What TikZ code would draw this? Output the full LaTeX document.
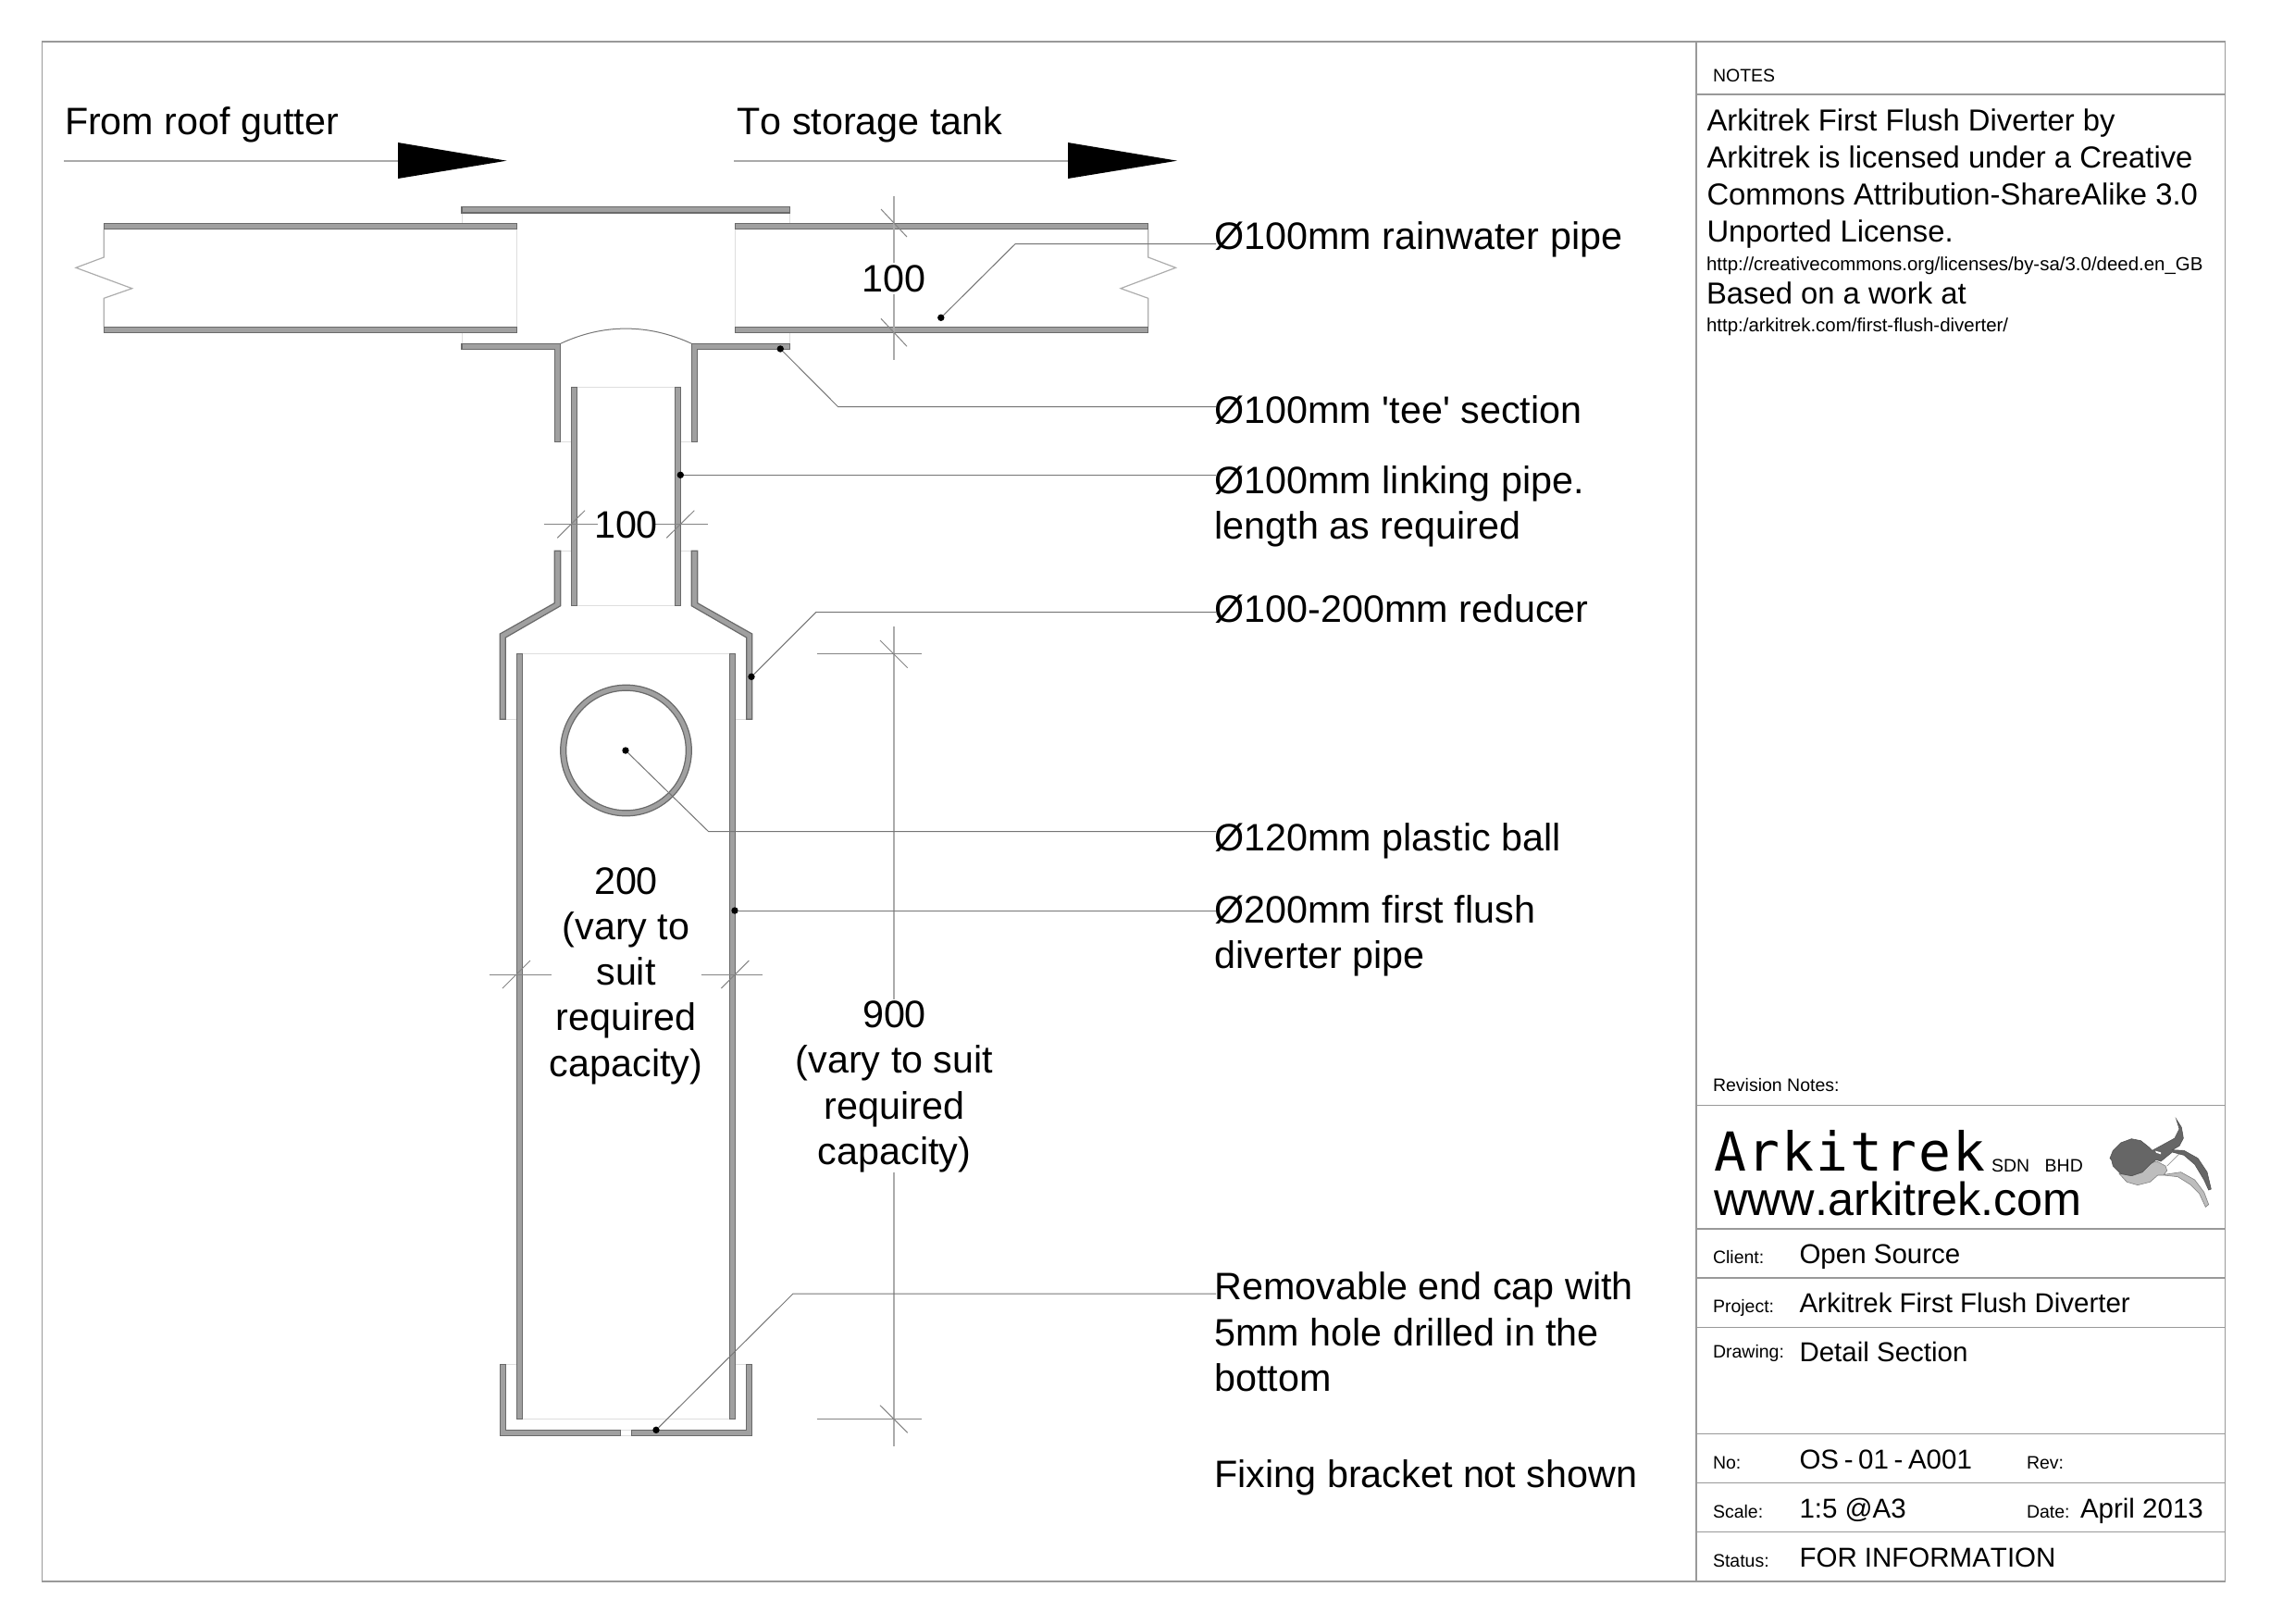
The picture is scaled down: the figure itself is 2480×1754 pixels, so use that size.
\documentclass[tikz,border=0pt]{standalone}
\usepackage{fontspec}
\newfontfamily\arial[Kerning=Off]{Liberation Sans}
\newfontfamily\logofont[LetterSpace=3.4]{DejaVu Sans Mono}
\definecolor{wallgray}{HTML}{A0A0A0}
\definecolor{walledge}{HTML}{6A6A6A}
\definecolor{ghostgray}{HTML}{DEDEDE}
\definecolor{leadgray}{HTML}{757575}
\definecolor{dimgray}{HTML}{858585}
\definecolor{dimvert}{HTML}{ABABAB}
\definecolor{framegray}{HTML}{999999}
\definecolor{logodark}{HTML}{666666}
\definecolor{logolight}{HTML}{BDBDBD}
\tikzset{
  wall/.style={fill=wallgray,draw=walledge,line width=1.2pt,line join=miter},
  ghost/.style={draw=ghostgray,line width=1pt},
  breakline/.style={draw=black!32,line width=1.2pt},
  lead/.style={draw=leadgray,line width=1pt},
  dimline/.style={draw=dimgray,line width=1pt},
  dimv/.style={draw=dimvert,line width=1.4pt},
  tick/.style={draw=dimgray,line width=1pt},
  flow/.style={draw=dimgray!70,line width=1.6pt},
  head/.style={fill=black},
  dot/.style={circle,fill=black,inner sep=0pt,outer sep=0pt,minimum size=7.4pt},
  frameline/.style={draw=framegray,line width=1.6pt},
  txt/.style={inner sep=0pt,outer sep=0pt,anchor=base west,text=black},
  ctr/.style={inner sep=0pt,outer sep=0pt,anchor=base,align=center,text=black},
  big/.style={font=\arial\fontsize{41.3}{49.3}\selectfont},
  bigleft/.style={big,align=left},
  med/.style={font=\arial\fontsize{32.8}{40}\selectfont},
  val/.style={font=\arial\fontsize{29.5}{35}\selectfont},
  urltxt/.style={font=\arial\fontsize{20.45}{24}\selectfont},
  small/.style={font=\arial\fontsize{19.5}{24}\selectfont},
}
\begin{document}
\begin{tikzpicture}[x=1pt,y=-1pt]
\useasboundingbox (0,0) rectangle (2480,1754);
\fill[white] (0,0) rectangle (2480,1754);

% sheet frame and title block rules
\draw[frameline] (45.5,44.7) rectangle (2404.5,1708.7);
\draw[frameline] (1833,44.7) -- (1833,1708.7);
\foreach \yy in {102,1194.4,1327.9,1381,1434.3,1549.6,1602.5,1655.5}
  \draw[frameline] (1833,\yy) -- (2404.5,\yy);

% flow arrows
\coordinate (fa) at (69,173.7);
\coordinate (fb) at (430,173.7);
\coordinate (ta) at (793,173.7);
\coordinate (tb) at (1154,173.7);
\draw[flow] (fa) -- (fb);
\draw[flow] (ta) -- (tb);
\fill[head] (430,154) -- (547.5,173.7) -- (430,193) -- cycle;
\fill[head] (1154,154) -- (1272,173.7) -- (1154,193) -- cycle;

% ghost edges
\draw[ghost] (558.3,247.7) -- (558.3,353.3);
\draw[ghost] (794.3,247.7) -- (794.3,353.3);
\draw[ghost] (499,230) -- (499,241.3);
\draw[ghost] (853.7,230) -- (853.7,241.3);
\draw[ghost] (499,359.7) -- (499,371.3);
\draw[ghost] (853.7,359.7) -- (853.7,371.3);
\draw[ghost] (623.7,418.7) -- (729.3,418.7);
\draw[ghost] (623.7,654.7) -- (729.3,654.7);
\draw[ghost] (605.7,477.7) -- (617.3,477.7);
\draw[ghost] (735.7,477.7) -- (747.3,477.7);
\draw[ghost] (605.7,595.3) -- (617.3,595.3);
\draw[ghost] (735.7,595.3) -- (747.3,595.3);
\draw[ghost] (546.3,777.3) -- (558.3,777.3);
\draw[ghost] (794.7,777.3) -- (806.7,777.3);
\draw[ghost] (564.3,706.7) -- (788.3,706.7);
\draw[ghost] (564.3,1533.7) -- (788.3,1533.7);
\draw[ghost] (546.7,1474.3) -- (558.3,1474.3);
\draw[ghost] (794.7,1474.3) -- (806.3,1474.3);
\draw[ghost] (670.7,1545.3) -- (682.3,1545.3);
\draw[ghost] (670.7,1551.3) -- (682.3,1551.3);

% pipe break lines
\draw[breakline] (112.3,247.7) -- (112.3,278) -- (82,289.3) -- (142.7,311.7) -- (112.3,322.3) -- (112.3,353.3);
\draw[breakline] (1240.7,247.7) -- (1240.7,278) -- (1270.5,289.3) -- (1211,311.7) -- (1240.7,322.3) -- (1240.7,353.3);

% horizontal pipes and tee
\path[wall] (112.3,241.3) rectangle (558.3,247.7);
\path[wall] (112.3,353.3) rectangle (558.3,359.7);
\path[wall] (794.3,241.3) rectangle (1240.7,247.7);
\path[wall] (794.3,353.3) rectangle (1240.7,359.7);
\path[wall] (499,223.3) rectangle (853.7,230);
\path[wall] (499,371.3) -- (605.7,371.3) -- (605.7,477.7) -- (599.3,477.7) -- (599.3,377.7) -- (499,377.7) -- cycle;
\path[wall] (853.7,371.3) -- (747.3,371.3) -- (747.3,477.7) -- (753.7,477.7) -- (753.7,377.7) -- (853.7,377.7) -- cycle;
\draw[draw=leadgray,line width=1pt] (605.7,371.3) .. controls (652,349.7) and (700.5,349.7) .. (747.3,371.3);

% linking pipe
\path[wall] (617.3,418.7) rectangle (623.7,654.7);
\path[wall] (729.3,418.7) rectangle (735.7,654.7);

% reducer
\path[wall] (599.3,595.3) -- (605.7,595.3) -- (605.7,654.7) -- (546.3,689) -- (546.3,777.3) -- (540.3,777.3) -- (540.3,685) -- (599.3,651.7) -- cycle;
\path[wall] (753.7,595.3) -- (747.3,595.3) -- (747.3,654.7) -- (806.7,689) -- (806.7,777.3) -- (812.7,777.3) -- (812.7,685) -- (753.7,651.7) -- cycle;

% diverter pipe
\path[wall] (558.3,706.7) rectangle (564.3,1533.7);
\path[wall] (788.3,706.7) rectangle (794.7,1533.7);

% end cap
\path[wall] (540.3,1474.3) -- (546.7,1474.3) -- (546.7,1545.3) -- (670.7,1545.3) -- (670.7,1551.3) -- (540.3,1551.3) -- cycle;
\path[wall] (812.3,1474.3) -- (806.3,1474.3) -- (806.3,1545.3) -- (682.3,1545.3) -- (682.3,1551.3) -- (812.3,1551.3) -- cycle;

% ball
\path[wall,even odd rule] (676.5,811) circle (70.8) (676.5,811) circle (64.8);

% dimensions
\draw[dimv] (966,211.7) -- (966,284);
\draw[dimv] (966,318) -- (966,389);
\draw[tick] (952,226) -- (980,256);
\draw[tick] (952,344.3) -- (980,374.3);
\draw[dimline] (587.7,566.3) -- (645.7,566.3);
\draw[dimline] (706.7,566.3) -- (765,566.3);
\draw[tick] (602.3,581.3) -- (632,551.7);
\draw[tick] (720.3,581.3) -- (750.3,551.7);
\draw[dimline] (528.6,1053) -- (595.7,1053);
\draw[dimline] (757.5,1053) -- (824,1053);
\draw[tick] (543,1068) -- (573,1038);
\draw[tick] (779.3,1068) -- (809.3,1038);
\draw[dimv] (966,677) -- (966,1080);
\draw[dimv] (966,1266.7) -- (966,1563);
\draw[dimline] (882.7,706.7) -- (995.7,706.7);
\draw[dimline] (882.7,1533.7) -- (995.7,1533.7);
\draw[tick] (951,692) -- (980.7,721.7);
\draw[tick] (951,1518.7) -- (980.7,1548.3);

% dimension text
\node[ctr,big] (dimA) at (966,315.5) {100};
\node[ctr,big] (dimB) at (676.5,581.5) {100};
\node[ctr,big] (dimC) at (676.5,1163.2) {200\\(vary to\\suit\\required\\capacity)};
\node[ctr,big] (dimD) at (966.5,1258.5) {900\\(vary to suit\\required\\capacity)};

% labels
\node[txt,big] (fromroof) at (70,145.5) {From roof gutter};
\node[txt,big] (totank) at (796.5,145.5) {To storage tank};
\node[txt,big] (labA) at (1312.5,269.2) {Ø100mm rainwater pipe};
\node[txt,big] (labB) at (1312.5,457.2) {Ø100mm 'tee' section};
\node[txt,bigleft] (labC) at (1312.5,582.5) {Ø100mm linking pipe.\\length as required};
\node[txt,big] (labD) at (1312.5,672.5) {Ø100-200mm reducer};
\node[txt,big] (labE) at (1312.5,919.8) {Ø120mm plastic ball};
\node[txt,bigleft] (labF) at (1312.5,1046.5) {Ø200mm first flush\\diverter pipe};
\node[txt,bigleft] (labG) at (1312.5,1503.5) {Removable end cap with\\5mm hole drilled in the\\bottom};
\node[txt,big] (labH) at (1312.5,1607) {Fixing bracket not shown};

% leaders
\node[dot] (d1) at (1016.8,343.3) {};
\node[dot] (d2) at (843.3,377) {};
\node[dot] (d3) at (735.3,513.3) {};
\node[dot] (d4) at (812,731.3) {};
\node[dot] (d5) at (676,811) {};
\node[dot] (d6) at (794,984) {};
\node[dot] (d7) at (709,1545.3) {};
\coordinate (e1) at (1314,263.7);
\coordinate (e2) at (1314,439.7);
\coordinate (e3) at (1314,513.3);
\coordinate (e4) at (1314,661.7);
\coordinate (e5) at (1314,898.5);
\coordinate (e6) at (1314,984);
\coordinate (e7) at (1314,1398);
\draw[lead] (d1) -- (1097,263.7) -- (e1);
\draw[lead] (d2) -- (905.7,439.7) -- (e2);
\draw[lead] (d3) -- (e3);
\draw[lead] (d4) -- (881.7,661.7) -- (e4);
\draw[lead] (d5) -- (765.5,898.5) -- (e5);
\draw[lead] (d6) -- (e6);
\draw[lead] (d7) -- (857,1398) -- (e7);

% notes panel
\node[txt,small] (notes) at (1851,88) {NOTES};
\node[txt,med,align=left] (lic) at (1844.5,261.5) {Arkitrek First Flush Diverter by\\Arkitrek is licensed under a Creative\\Commons Attribution-ShareAlike 3.0\\Unported License.};
\node[txt,urltxt] (url1) at (1844,292) {http://creativecommons.org/licenses/by-sa/3.0/deed.en\_GB};
\node[txt,med] (based) at (1844,328) {Based on a work at};
\node[txt,urltxt] (url2) at (1844,358.5) {http:/arkitrek.com/first-flush-diverter/};
\node[txt,small] (rev) at (1851,1179.5) {Revision Notes:};

% logo
\node[txt,font=\logofont\fontsize{58}{60}\selectfont] (logo) at (1852,1265.5) {Arkitrek};
\node[txt,small] (sdn) at (2152,1266) {SDN};
\node[txt,small] (bhd) at (2209.7,1266) {BHD};
\node[txt,font=\arial\fontsize{50.4}{56}\selectfont] (www) at (1852,1313) {www.arkitrek.com};
\begin{scope}[shift={(2260,1200)},x=0.3333pt,y=-0.3333pt]
\draw[fill=logolight,draw=gray,line width=0.6pt] (90,205) -- (130,212) -- (165,200) -- (195,170) -- (212,165) -- (240,180) -- (245,195) -- (235,208) -- (290,200) -- (335,225) -- (365,265) -- (380,305) -- (370,313) -- (350,270) -- (320,240) -- (280,215) -- (235,210) -- (215,210) -- (190,232) -- (150,242) -- (115,232) -- cycle;
\draw[draw=gray,line width=0.6pt] (262,128) -- (295,90) (245,180) -- (285,140);
\draw[fill=logodark,draw=logodark!80!black,line width=0.6pt] (60,155) -- (70,130) -- (95,105) -- (130,92) -- (160,98) -- (185,118) -- (197,130) -- (230,112) -- (270,90) -- (285,60) -- (275,28) -- (292,55) -- (298,90) -- (285,115) -- (262,128) -- (300,130) -- (345,155) -- (375,200) -- (388,255) -- (380,258) -- (365,225) -- (335,175) -- (300,145) -- (262,135) -- (225,165) -- (210,160) -- (190,175) -- (165,200) -- (130,212) -- (95,205) -- (70,180) -- (65,160) -- cycle;
\fill[white] (207,131) -- (225,136) -- (225,142) -- (210,137) -- cycle;
\end{scope}

% title block text
\node[txt,small] (tClient) at (1851,1365.5) {Client:};
\node[txt,val] (vClient) at (1944.5,1365.5) {Open Source};
\node[txt,small] (tProject) at (1851,1418.8) {Project:};
\node[txt,val] (vProject) at (1944.5,1418.8) {Arkitrek First Flush Diverter};
\node[txt,small] (tDrawing) at (1851,1467.5) {Drawing:};
\node[txt,val] (vDrawing) at (1944.5,1471.5) {Detail Section};
\node[txt,small] (tNo) at (1851,1587.2) {No:};
\node[txt,val] (vNo) at (1944.5,1587.2) {{\spaceskip=0.19em OS - 01 - A001}};
\node[txt,small] (tRev) at (2190,1587.2) {Rev:};
\node[txt,small] (tScale) at (1851,1640.8) {Scale:};
\node[txt,val] (vScale) at (1944.5,1640.8) {1:5 @A3};
\node[txt,small] (tDate) at (2190,1640.8) {Date:};
\node[txt,val] (vDate) at (2248,1640.8) {April 2013};
\node[txt,small] (tStatus) at (1851,1693.2) {Status:};
\node[txt,val] (vStatus) at (1944.5,1693.2) {FOR INFORMATION};
\end{tikzpicture}
\end{document}
